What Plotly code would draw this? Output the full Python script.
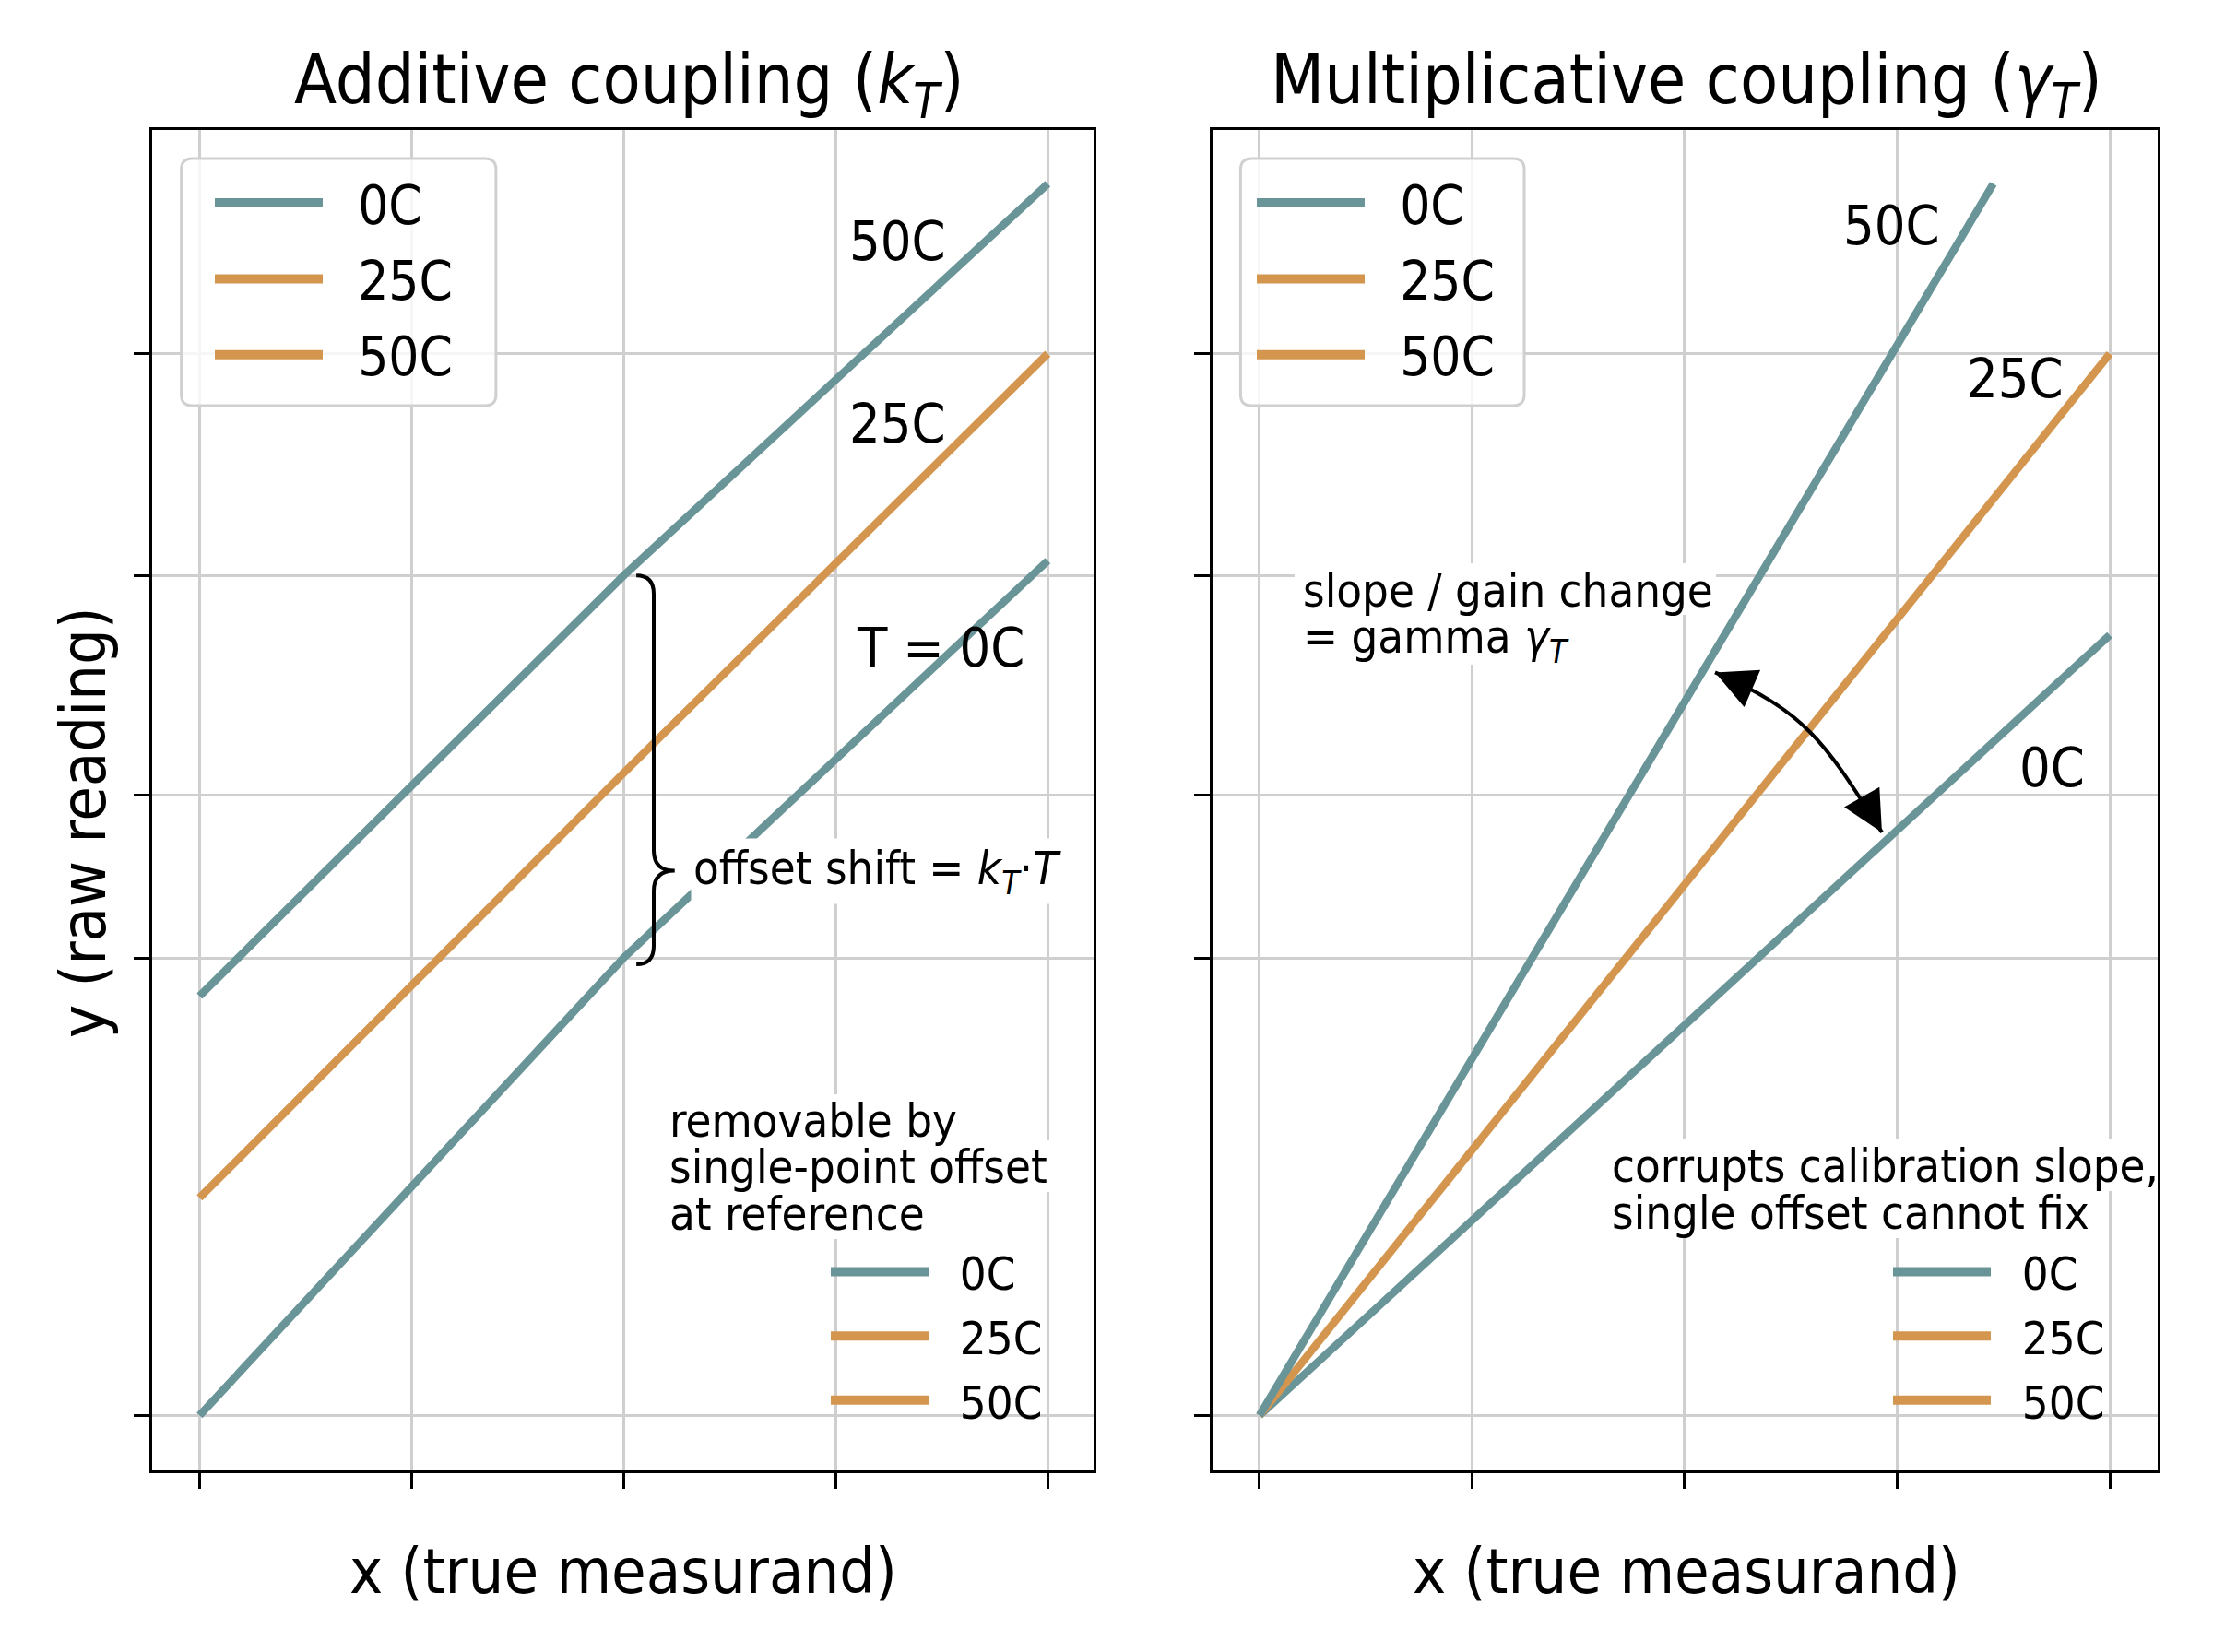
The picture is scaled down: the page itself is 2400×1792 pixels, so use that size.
import plotly.graph_objects as go

W, H = 2400, 1792
FONT = "DejaVu Sans Condensed, DejaVu Sans, sans-serif"
TEAL = "#6a9598"
ORANGE = "#d4964f"
NBSP = "\u00a0"

# axis ticks (no labels shown)
x_ticks = [0, 0.25, 0.5, 0.75, 1.0]
y_ticks = [0, 0.431, 0.584, 0.791, 1.0]

# additive coupling (k_T): readings at x = 0, 0.5, 1
add_x = [0, 0.5, 1.0]
add_0c = [0.0, 0.431, 0.805]
add_25c = [0.205, 0.605, 1.0]
add_50c = [0.395, 0.791, 1.160]

# multiplicative coupling (gamma_T): lines through the origin
mul_x = [0, 1.0]
mul_0c = [0.0, 0.735]
mul_25c = [0.0, 1.0]
mul_50c_x = [0, 0.863]
mul_50c = [0.0, 1.160]

temps = ["0C", "25C", "50C"]
legend_colors = [TEAL, ORANGE, ORANGE]

fig = go.Figure()

# --- data lines
for ys, col in [(add_0c, TEAL), (add_25c, ORANGE), (add_50c, TEAL)]:
    fig.add_trace(go.Scatter(x=add_x, y=ys, mode="lines", line=dict(color=col, width=8.5),
                             showlegend=False, hoverinfo="skip", xaxis="x", yaxis="y"))

for xs, ys, col in [(mul_x, mul_0c, TEAL), (mul_x, mul_25c, ORANGE), (mul_50c_x, mul_50c, TEAL)]:
    fig.add_trace(go.Scatter(x=xs, y=ys, mode="lines", line=dict(color=col, width=8.5),
                             showlegend=False, hoverinfo="skip", xaxis="x2", yaxis="y2"))

# --- legend entries (four legends, same three entries)
for leg, ax, ay in [("legend", "x", "y"), ("legend2", "x2", "y2"),
                    ("legend3", "x", "y"), ("legend4", "x2", "y2")]:
    for name, col in zip(temps, legend_colors):
        fig.add_trace(go.Scatter(x=[None], y=[None], mode="lines", line=dict(color=col, width=10),
                                 name=NBSP * 2 + name, legend=leg, legendgroup=leg + name,
                                 xaxis=ax, yaxis=ay))

top_leg = dict(xanchor="left", yanchor="top", bgcolor="rgba(0,0,0,0)", borderwidth=0,
               font=dict(size=58, color="black"), itemwidth=117, tracegroupgap=4,
               traceorder="grouped")
bot_leg = dict(xanchor="left", yanchor="top", bgcolor="rgba(0,0,0,0)", borderwidth=0,
               font=dict(size=50.5, color="black"), itemwidth=106, tracegroupgap=1,
               traceorder="grouped")


def paper_x(px):
    return px / W


def paper_y(py):
    return 1 - py / H


axis_common = dict(showline=True, mirror=True, linecolor="black", linewidth=3,
                   ticks="outside", ticklen=17, tickwidth=3, tickcolor="black",
                   showticklabels=False, showgrid=True, gridcolor="#cfcfcf", gridwidth=2.5,
                   zeroline=False)

fig.update_layout(
    width=W, height=H, autosize=False,
    margin=dict(l=0, r=0, t=0, b=0),
    paper_bgcolor="white", plot_bgcolor="white",
    font=dict(family=FONT, color="black"),
    xaxis=dict(domain=[paper_x(164.5), paper_x(1186)], range=[-0.0564, 1.054],
               tickvals=x_ticks, anchor="y", **axis_common),
    yaxis=dict(domain=[paper_y(1595), paper_y(140.6)], range=[-0.0517, 1.211],
               tickvals=y_ticks, anchor="x", **axis_common),
    xaxis2=dict(domain=[paper_x(1314.8), paper_x(2340)], range=[-0.0555, 1.0564],
                tickvals=x_ticks, anchor="y2", **axis_common),
    yaxis2=dict(domain=[paper_y(1595), paper_y(140.6)], range=[-0.0517, 1.211],
                tickvals=y_ticks, anchor="x2", **axis_common),
    legend=dict(x=paper_x(228), y=paper_y(175.8), **top_leg),
    legend2=dict(x=paper_x(1358), y=paper_y(175.8), **top_leg),
    legend3=dict(x=paper_x(896), y=paper_y(1340.2), **bot_leg),
    legend4=dict(x=paper_x(2048), y=paper_y(1340.2), **bot_leg),
)


# --- legend frames (rounded, semi-transparent)
def rounded_box(x0, y0, x1, y1, r=12):
    X = paper_x
    Y = paper_y
    return (f"M{X(x0 + r)},{Y(y0)} L{X(x1 - r)},{Y(y0)} Q{X(x1)},{Y(y0)} {X(x1)},{Y(y0 + r)} "
            f"L{X(x1)},{Y(y1 - r)} Q{X(x1)},{Y(y1)} {X(x1 - r)},{Y(y1)} "
            f"L{X(x0 + r)},{Y(y1)} Q{X(x0)},{Y(y1)} {X(x0)},{Y(y1 - r)} "
            f"L{X(x0)},{Y(y0 + r)} Q{X(x0)},{Y(y0)} {X(x0 + r)},{Y(y0)} Z")


for box in [(196.6, 172, 537.9, 440), (1345.4, 172, 1653, 440)]:
    fig.add_shape(type="path", path=rounded_box(*box), xref="paper", yref="paper",
                  fillcolor="rgba(255,255,255,0.8)", line=dict(color="#d0d0d0", width=3),
                  layer="above")

# white strips behind each line of the multi-line notes (left px, right px, centre py)
for x0, x1, yc in [(718, 1042, 1215), (718, 1140, 1265), (718, 1008, 1316),
                   (1404, 1861, 639), (1404, 1703, 693),
                   (1739, 2339, 1264), (1739, 2270, 1315)]:
    fig.add_shape(type="rect", xref="paper", yref="paper", layer="above",
                  x0=paper_x(x0), x1=paper_x(x1), y0=paper_y(yc + 28), y1=paper_y(yc - 28),
                  fillcolor="white", line=dict(width=0))


# --- curly brace for the additive offset
def brace_path(x_hook, x_line, x_tip, y_top, y_bot, y_tip, hy, ty):
    return (f"M{x_hook},{y_top} Q{x_line},{y_top} {x_line},{y_top - hy} "
            f"L{x_line},{y_tip + ty} Q{x_line},{y_tip} {x_tip},{y_tip} "
            f"Q{x_line},{y_tip} {x_line},{y_tip - ty} "
            f"L{x_line},{y_bot + hy} Q{x_line},{y_bot} {x_hook},{y_bot}")


fig.add_shape(type="path", xref="x", yref="y", layer="above",
              path=brace_path(0.515, 0.5355, 0.5602, add_50c[1], add_0c[1] - 0.006, 0.513, 0.0174, 0.019),
              line=dict(color="black", width=4))

# --- curved double arrow for the gain change
p0 = (0.5358, 0.6998)
p1 = (0.7321, 0.5492)
fig.add_shape(type="path", xref="x2", yref="y2", layer="above",
              path=f"M{p0[0]},{p0[1]} C0.6453,0.6618 0.6659,0.6323 {p1[0]},{p1[1]}",
              line=dict(color="black", width=4))
for (hx, hy), (tx, ty) in [(p0, (30, 13)), (p1, (-16, -28))]:
    fig.add_annotation(x=hx, y=hy, xref="x2", yref="y2", ax=tx, ay=ty, text="",
                       showarrow=True, arrowhead=2, arrowsize=2.2, arrowwidth=4,
                       arrowcolor="black", standoff=0)


def label(text, x, y, xref, yref, size, bg=None, **kw):
    fig.add_annotation(x=x, y=y, xref=xref, yref=yref, text=text, showarrow=False,
                       xanchor=kw.pop("xanchor", "left"), yanchor="middle",
                       font=dict(size=size, color="black", family=FONT),
                       bgcolor=bg, borderpad=2, **kw)


# titles and axis labels
label("Additive coupling (<i>k<sub>T</sub></i>)", paper_x(682), paper_y(91), "paper", "paper", 75,
      xanchor="center")
label("Multiplicative coupling (<i>γ<sub>T</sub></i>)", paper_x(1828.6), paper_y(91), "paper", "paper",
      75, xanchor="center")
label("x (true measurand)", paper_x(676), paper_y(1704), "paper", "paper", 68, xanchor="center")
label("x (true measurand)", paper_x(1829), paper_y(1704), "paper", "paper", 68, xanchor="center")
label("y (raw reading)", paper_x(90), paper_y(892), "paper", "paper", 68, xanchor="center",
      textangle=-90)

# left panel text
label("50C", 0.7627, 1.106, "x", "y", 59)
label("25C", 0.7627, 0.9345, "x", "y", 59)
label("T = 0C", 0.7713, 0.723, "x", "y", 59)
label("offset shift = <i>k<sub>T</sub></i>·<i>T</i>", 0.579, 0.513, "x", "y", 50.5, bg="white")
for txt, yy in zip(["removable by", "single-point offset", "at reference"], [0.2779, 0.2347, 0.1904]):
    label(txt, 0.5506, yy, "x", "y", 50.5)

# right panel text
label("50C", 0.6833, 1.1211, "x2", "y2", 59)
label("25C", 0.8286, 0.9767, "x2", "y2", 59)
label("0C", 0.8905, 0.6103, "x2", "y2", 59)
for txt, yy in zip(["slope / gain change", "= gamma <i>γ<sub>T</sub></i>"], [0.7773, 0.7309]):
    label(txt, 0.0477, yy, "x2", "y2", 50.5)
for txt, yy in zip(["corrupts calibration slope,", "single offset cannot fix"], [0.2356, 0.1911]):
    label(txt, 0.4108, yy, "x2", "y2", 50.5)

fig.write_html("out.html", config={"displayModeBar": False},
               post_script="document.body.style.margin='0';")
